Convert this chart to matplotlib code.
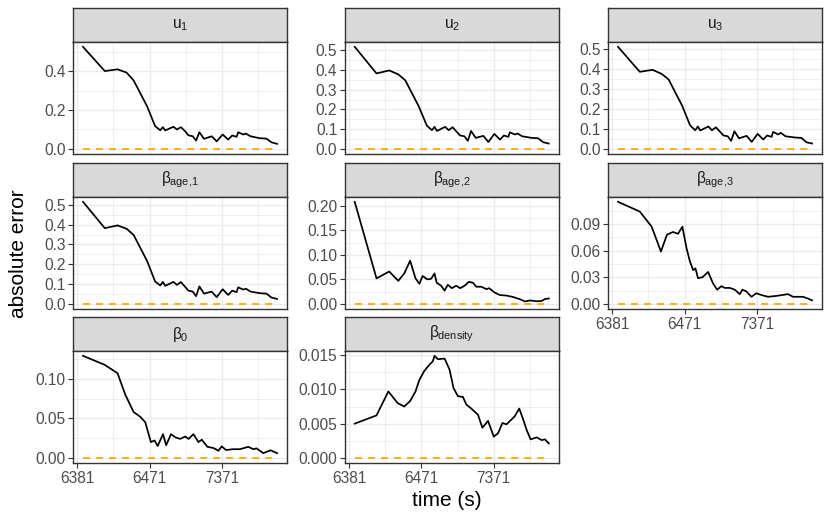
import matplotlib
matplotlib.use("Agg")
import matplotlib.pyplot as plt
import numpy as np

plt.rcParams['font.family'] = ['Liberation Sans', 'DejaVu Sans']
plt.rcParams['mathtext.fontset'] = 'custom'
plt.rcParams['mathtext.rm'] = 'Liberation Sans'
plt.rcParams['mathtext.it'] = 'Liberation Sans'
plt.rcParams['mathtext.bf'] = 'Liberation Sans:bold'

T0 = 6371  # clock time (s) at which the run started

# elapsed seconds, shared by u1, u2, u3 and beta_age,1
t_u = [12, 24, 36, 48, 60, 92, 119, 140, 152, 164, 213, 238, 270, 309, 343, 394,
       438, 486, 563, 719, 843, 1019, 1217, 1381, 1588, 1670, 1958, 2132, 2473,
       3320, 4103, 4806, 5760]
u1 = [0.526, 0.401, 0.410, 0.393, 0.353, 0.220, 0.117, 0.096, 0.112, 0.095, 0.114,
      0.100, 0.112, 0.091, 0.070, 0.065, 0.043, 0.086, 0.052, 0.065, 0.039, 0.074,
      0.048, 0.069, 0.062, 0.086, 0.074, 0.079, 0.065, 0.055, 0.053, 0.034, 0.026]
u2 = [0.518, 0.383, 0.398, 0.378, 0.348, 0.216, 0.118, 0.095, 0.112, 0.091, 0.112,
      0.095, 0.110, 0.086, 0.068, 0.064, 0.041, 0.091, 0.056, 0.066, 0.035, 0.076,
      0.047, 0.068, 0.061, 0.084, 0.073, 0.078, 0.064, 0.056, 0.054, 0.034, 0.027]
u3 = [0.510, 0.385, 0.395, 0.375, 0.347, 0.217, 0.117, 0.093, 0.112, 0.092, 0.112,
      0.093, 0.108, 0.085, 0.067, 0.063, 0.040, 0.088, 0.053, 0.065, 0.035, 0.075,
      0.047, 0.067, 0.060, 0.085, 0.072, 0.080, 0.063, 0.057, 0.055, 0.033, 0.027]
b_age1 = [0.515, 0.382, 0.396, 0.379, 0.348, 0.217, 0.113, 0.093, 0.111, 0.091, 0.111,
          0.096, 0.110, 0.086, 0.067, 0.062, 0.039, 0.088, 0.052, 0.062, 0.034, 0.074,
          0.045, 0.067, 0.059, 0.084, 0.072, 0.077, 0.062, 0.054, 0.052, 0.032, 0.025]

t_a2 = [12, 24, 36, 48, 58, 70, 83, 94, 104, 120, 136, 152, 163, 188, 209, 232, 264,
        303, 344, 395, 454, 516, 574, 674, 791, 861, 1033, 1211, 1499, 1856, 2296,
        2698, 3162, 3915, 4594, 5108, 5760]
b_age2 = [0.208, 0.052, 0.066, 0.047, 0.062, 0.088, 0.052, 0.041, 0.057, 0.050, 0.051,
          0.062, 0.043, 0.037, 0.027, 0.039, 0.032, 0.037, 0.032, 0.037, 0.045, 0.043,
          0.035, 0.035, 0.030, 0.032, 0.023, 0.018, 0.017, 0.014, 0.0095, 0.005, 0.007,
          0.0054, 0.006, 0.010, 0.011]

t_a3 = [12, 24, 35, 47, 57, 69, 81, 93, 106, 118, 131, 141, 153, 176, 211, 247, 281,
        322, 358, 420, 492, 577, 628, 713, 836, 979, 1148, 1419, 1849, 2679, 3141,
        4306, 5047, 5760]
b_age3 = [0.115, 0.104, 0.087, 0.059, 0.078, 0.081, 0.079, 0.087, 0.063, 0.048, 0.038,
          0.040, 0.029, 0.030, 0.036, 0.023, 0.016, 0.020, 0.018, 0.018, 0.016, 0.011,
          0.016, 0.014, 0.008, 0.012, 0.010, 0.008, 0.009, 0.011, 0.008, 0.008, 0.006,
          0.004]

t_b0 = [12, 24, 36, 46, 60, 74, 87, 104, 117, 129, 153, 169, 197, 226, 264, 310, 344,
        403, 472, 525, 628, 760, 891, 989, 1135, 1432, 1770, 2303, 2700, 3000, 3709,
        4677, 5760]
b0 = [0.129, 0.1175, 0.107, 0.080, 0.058, 0.052, 0.045, 0.020, 0.022, 0.015, 0.030,
      0.016, 0.030, 0.026, 0.024, 0.027, 0.024, 0.030, 0.020, 0.023, 0.014, 0.0125,
      0.009, 0.0146, 0.010, 0.011, 0.011, 0.014, 0.011, 0.012, 0.006, 0.0096, 0.006]

t_d = [12, 24, 35, 47, 58, 70, 83, 94, 110, 129, 144, 152, 169, 209, 245, 278, 320,
       375, 417, 489, 606, 696, 834, 1000, 1148, 1318, 1499, 1759, 1958, 2249, 2553,
       2842, 3229, 3915, 4594, 5108, 5760]
b_density = [0.0050, 0.0062, 0.0097, 0.0080, 0.0075, 0.0083, 0.0097, 0.0114, 0.0127,
             0.0136, 0.0141, 0.0149, 0.0144, 0.0145, 0.0129, 0.0102, 0.0090, 0.0089,
             0.0078, 0.0072, 0.0063, 0.0044, 0.0054, 0.0031, 0.0036, 0.0051, 0.0049,
             0.0056, 0.0061, 0.0072, 0.0056, 0.0041, 0.0027, 0.0030, 0.0026, 0.0027,
             0.0021]

x_breaks = [10, 100, 1000]

# (title, times, values, y breaks, label format)
panels = [
    (r'$\mathregular{u_1}$', t_u, u1, [0, 0.2, 0.4], '%.1f'),
    (r'$\mathregular{u_2}$', t_u, u2, [0, 0.1, 0.2, 0.3, 0.4, 0.5], '%.1f'),
    (r'$\mathregular{u_3}$', t_u, u3, [0, 0.1, 0.2, 0.3, 0.4, 0.5], '%.1f'),
    (r'$\beta_{\mathregular{age{,}1}}$', t_u, b_age1, [0, 0.1, 0.2, 0.3, 0.4, 0.5], '%.1f'),
    (r'$\beta_{\mathregular{age{,}2}}$', t_a2, b_age2, [0, 0.05, 0.10, 0.15, 0.20], '%.2f'),
    (r'$\beta_{\mathregular{age{,}3}}$', t_a3, b_age3, [0, 0.03, 0.06, 0.09], '%.2f'),
    (r'$\beta_{\mathregular{0}}$', t_b0, b0, [0, 0.05, 0.10], '%.2f'),
    (r'$\beta_{\mathregular{density}}$', t_d, b_density, [0, 0.005, 0.010, 0.015], '%.3f'),
]

W, H = 830, 519
fig = plt.figure(figsize=(W / 100, H / 100), dpi=100)

col_left = [73.3, 345.0, 608.3]
panel_w = 213.5
strip_top = [8.3, 163.3, 317.3]
strip_h = 33.4
panel_h = 112.3

# shared x range, ggplot style 5% expansion in log space
all_t = np.concatenate([np.asarray(p[1], float) for p in panels])
lx0, lx1 = np.log10(all_t.min()), np.log10(all_t.max())
pad = 0.05 * (lx1 - lx0)
xlim = (10 ** (lx0 - pad), 10 ** (lx1 + pad))
x_minor = [10 ** (np.log10(b) + 0.5) for b in x_breaks] + [10 ** 0.5]

grey20 = '#333333'
for i, (title, t, v, yb, fmt) in enumerate(panels):
    r, c = divmod(i, 3)
    left = col_left[c] / W
    top = strip_top[r]
    # strip
    sax = fig.add_axes([left, (H - top - strip_h) / H, panel_w / W, strip_h / H])
    sax.set_facecolor('#D9D9D9')
    sax.set_xticks([])
    sax.set_yticks([])
    for s in sax.spines.values():
        s.set_color(grey20)
        s.set_linewidth(1.0)
    sax.text(0.5, 0.5, title, ha='center', va='center', fontsize=11.2,
             color='#1A1A1A', transform=sax.transAxes)

    ax = fig.add_axes([left, (H - top - strip_h - panel_h) / H, panel_w / W, panel_h / H])
    ax.set_xscale('log')
    ax.plot(t, v, color='black', lw=1.25, zorder=3)
    ax.plot([t[0], t[-1]], [0, 0], color='#FFA500', lw=1.25,
            linestyle=(0, (4, 3.5)), zorder=2)

    lo, hi = min(0, min(v)), max(v)
    ypad = 0.05 * (hi - lo)
    ax.set_ylim(lo - ypad, hi + ypad)
    ax.set_xlim(*xlim)

    step = yb[1] - yb[0]
    y_minor = [b + step / 2 for b in yb] + [yb[0] - step / 2]
    for ym in y_minor:
        ax.axhline(ym, color='#EBEBEB', lw=0.55, zorder=0)
    for yv in yb:
        ax.axhline(yv, color='#EBEBEB', lw=1.0, zorder=0)
    for xm in x_minor:
        ax.axvline(xm, color='#EBEBEB', lw=0.55, zorder=0)
    for xv in x_breaks:
        ax.axvline(xv, color='#EBEBEB', lw=1.0, zorder=0)

    ax.set_yticks(yb)
    ax.set_yticklabels([fmt % y for y in yb])
    ax.set_xticks(x_breaks)
    ax.minorticks_off()
    show_x = (i + 3) >= len(panels)
    if show_x:
        ax.set_xticklabels([str(b + T0) for b in x_breaks])
    else:
        ax.set_xticklabels([])
    ax.tick_params(axis='both', labelsize=11.2, labelcolor='#4D4D4D', color=grey20,
                   length=3.5, width=0.8, pad=2)
    if not show_x:
        ax.tick_params(axis='x', length=0)
    for s in ax.spines.values():
        s.set_color(grey20)
        s.set_linewidth(1.0)

fig.text(18.5 / W, 1 - 254 / H, 'absolute error', rotation=90, ha='center', va='center',
         fontsize=15, color='black')
fig.text(447 / W, 1 - 501 / H, 'time (s)', ha='center', va='center',
         fontsize=15, color='black')

fig.savefig('out.png', dpi=100)
